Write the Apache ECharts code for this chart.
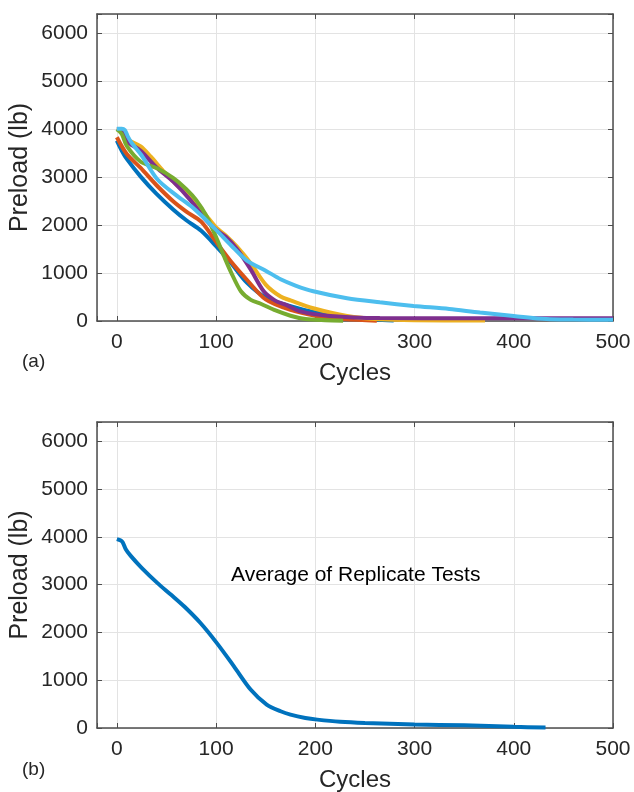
<!DOCTYPE html>
<html>
<head>
<meta charset="utf-8">
<script src="https://cdn.jsdelivr.net/npm/echarts@6/dist/echarts.min.js"></script>
<style>
  html, body { margin: 0; padding: 0; background: #fff; }
  #chart { width: 634px; height: 792px; }
</style>
</head>
<body>
<div id="chart"></div>
<script>
// preload vs cycles, one array per replicate test: [cycle, preload lb]
const seriesNames = ['Test 1', 'Test 2', 'Test 3', 'Test 4', 'Test 5', 'Test 6'];
const colors = ['#0072BD', '#D95319', '#EDB120', '#7E2F8E', '#77AC30', '#4DBEEE'];

const test1 = [[0,3760],[5,3550],[10,3380],[24,3010],[40,2650],[57,2320],[70,2100],[85,1880],[100,1560],[115,1210],[131,800],[150,490],[175,310],[198,190],[232,80],[260,30],[279,10]];
const test2 = [[0,3830],[10,3480],[24,3190],[40,2830],[57,2490],[70,2280],[85,2070],[100,1650],[115,1240],[131,860],[150,450],[175,230],[200,110],[230,40],[262,5]];
const test3 = [[0,4000],[6,3990],[10,3800],[24,3640],[34,3430],[47,3120],[60,2850],[75,2560],[90,2200],[100,1950],[110,1780],[121,1550],[135,1200],[150,760],[165,510],[175,430],[198,265],[232,105],[265,35],[300,15],[371,10]];
const test4 = [[0,4000],[5,4000],[10,3750],[24,3550],[40,3200],[57,2900],[75,2500],[90,2100],[100,1900],[110,1750],[121,1500],[135,1070],[148,620],[160,420],[170,340],[185,200],[215,105],[265,60],[350,55],[500,55]];
const test5 = [[0,4000],[5,3900],[10,3650],[24,3320],[41,3180],[57,2980],[70,2750],[80,2520],[90,2200],[100,1750],[108,1350],[115,1020],[125,620],[135,440],[145,360],[160,220],[175,110],[190,40],[210,15],[228,5]];
const test6 = [[0,4010],[5,4010],[8,3980],[11,3850],[15,3710],[25,3450],[41,2950],[60,2620],[75,2390],[98,1940],[115,1580],[131,1260],[150,1050],[165,870],[180,740],[198,620],[232,475],[265,390],[299,315],[335,250],[366,175],[400,105],[433,40],[460,30],[500,25]];
const tests = [test1, test2, test3, test4, test5, test6];

const average = [[0,3950],[4,3920],[6,3880],[9,3740],[14,3600],[25,3350],[41,3030],[55,2780],[68,2540],[84.5,2190],[101,1770],[118,1290],[135,800],[151,490],[165,350],[175,280],[190,210],[202,175],[225,130],[250,105],[300,75],[350,55],[400,25],[432,10]];

const xTicks = [0, 100, 200, 300, 400, 500];
const yTicks = [0, 1000, 2000, 3000, 4000, 5000, 6000];

const font = '"Liberation Sans", Arial, sans-serif';
const textColor = '#262626';
const axisColor = '#4d4d4d';
const gridColor = '#e3e3e3';

function xAxisFor(gridIndex) {
    return [{
        type: 'value', gridIndex, min: -20, max: 500, splitNumber: 5,
        name: 'Cycles', nameLocation: 'middle', nameGap: 40, nameMoveOverlap: false,
        nameTextStyle: { fontFamily: font, fontSize: 24, color: textColor },
        axisLine: { show: true, onZero: false, lineStyle: { color: axisColor, width: 1.5 } },
        axisTick: { show: true, inside: true, length: 5, lineStyle: { color: axisColor } },
        axisLabel: {
            fontFamily: font, fontSize: 21, color: textColor, margin: 11,
            formatter: v => xTicks.includes(v) ? String(v) : ''
        },
        splitLine: { show: true, lineStyle: { color: gridColor, width: 1 } }
    }, {
        type: 'value', gridIndex, min: -20, max: 500, splitNumber: 5, position: 'top',
        axisLine: { show: true, onZero: false, lineStyle: { color: axisColor, width: 1.5 } },
        axisTick: { show: true, inside: true, length: 5, lineStyle: { color: axisColor } },
        axisLabel: { show: false },
        splitLine: { show: false }
    }];
}

function yAxisFor(gridIndex) {
    return [{
        type: 'value', gridIndex, min: 0, max: 6400, interval: 1000,
        name: 'Preload (lb)', nameLocation: 'middle', nameGap: 64, nameMoveOverlap: false,
        nameTextStyle: { fontFamily: font, fontSize: 25, color: textColor },
        axisLine: { show: true, onZero: false, lineStyle: { color: axisColor, width: 1.5 } },
        axisTick: { show: true, inside: true, length: 5, lineStyle: { color: axisColor } },
        axisLabel: {
            fontFamily: font, fontSize: 21, color: textColor, margin: 9,
            formatter: v => yTicks.includes(v) ? String(v) : ''
        },
        splitLine: { show: true, lineStyle: { color: gridColor, width: 1 } }
    }, {
        type: 'value', gridIndex, min: 0, max: 6400, interval: 1000, position: 'right',
        axisLine: { show: true, onZero: false, lineStyle: { color: axisColor, width: 1.5 } },
        axisTick: { show: true, inside: true, length: 5, lineStyle: { color: axisColor } },
        axisLabel: { show: false },
        splitLine: { show: false }
    }];
}

const chart = echarts.init(document.getElementById('chart'));

const series = tests.map((d, i) => ({
    name: seriesNames[i],
    type: 'line',
    xAxisIndex: 0, yAxisIndex: 0,
    data: d,
    smooth: 0.3,
    showSymbol: false,
    lineStyle: { color: colors[i], width: 4 },
    itemStyle: { color: colors[i] },
    z: 3 + i
}));

series.push({
    name: 'Average',
    type: 'line',
    xAxisIndex: 2, yAxisIndex: 2,
    data: average,
    smooth: 0.3,
    showSymbol: false,
    lineStyle: { color: colors[0], width: 4 },
    itemStyle: { color: colors[0] }
});

chart.setOption({
    animation: false,
    backgroundColor: '#fff',
    grid: [
        { left: 97, top: 14, width: 516, height: 307, outerBoundsMode: 'none', containLabel: false },
        { left: 97, top: 422, width: 516, height: 306, outerBoundsMode: 'none', containLabel: false }
    ],
    xAxis: [...xAxisFor(0), ...xAxisFor(1)],
    yAxis: [...yAxisFor(0), ...yAxisFor(1)],
    graphic: [
        { type: 'text', left: 22, top: 352, style: { text: '(a)', fontFamily: font, fontSize: 19, fill: textColor } },
        { type: 'text', left: 22, top: 760, style: { text: '(b)', fontFamily: font, fontSize: 19, fill: textColor } },
        { type: 'text', left: 231, top: 565, z: 100, style: { text: 'Average of Replicate Tests', fontFamily: font, fontSize: 21, fill: '#000' } }
    ],
    series
});
</script>
</body>
</html>
